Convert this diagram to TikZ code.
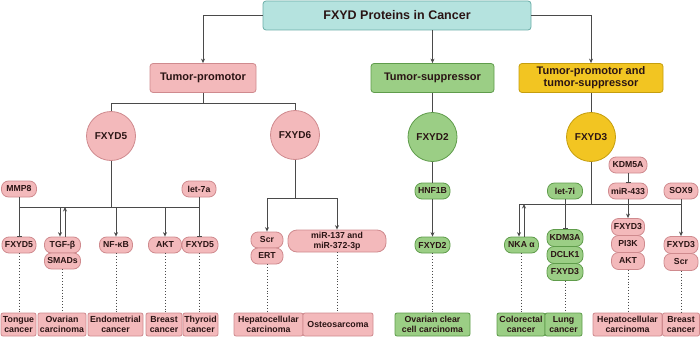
\documentclass[tikz,border=0pt]{standalone}
\usepackage{fontspec}
\setmainfont{Liberation Sans}
\usetikzlibrary{arrows.meta}
\definecolor{pinkF}{HTML}{F3B9BB}
\definecolor{pinkD}{HTML}{CF8A8E}
\definecolor{greenF}{HTML}{9BCE85}
\definecolor{greenD}{HTML}{5F9C4B}
\definecolor{yelF}{HTML}{F2C522}
\definecolor{yelD}{HTML}{C59E0E}
\definecolor{tealF}{HTML}{B5E3DF}
\definecolor{tealD}{HTML}{6AADA7}
\definecolor{lineC}{HTML}{4A4A4A}
\definecolor{txtC}{HTML}{2A1414}
\tikzset{
 base/.style={inner sep=0pt, align=center, text=txtC, font=\bfseries\fontsize{8.7}{9.5}\selectfont, line width=0.8pt},
 pinkpill/.style={base, fill=pinkF, draw=pinkD, rounded corners=7pt, minimum height=16pt},
 greenpill/.style={base, fill=greenF, draw=greenD, rounded corners=7pt, minimum height=16pt},
 pinkbox/.style={base, fill=pinkF, draw=pinkD, rounded corners=2pt, minimum height=23pt, font=\bfseries\fontsize{8.8}{10}\selectfont},
 greenbox/.style={base, fill=greenF, draw=greenD, rounded corners=2pt, minimum height=23pt, font=\bfseries\fontsize{8.8}{10}\selectfont},
 headbox/.style={base, rounded corners=3pt, font=\bfseries\fontsize{11}{12}\selectfont, minimum height=29pt},
 circ/.style={base, circle, minimum size=49pt, font=\bfseries\fontsize{10}{11}\selectfont},
 conn/.style={draw=lineC, line width=0.8pt},
 arr/.style={conn, -{Stealth[length=4.5pt,width=4pt]}},
 inh/.style={conn, -{Bar[width=5pt]}},
 dotl/.style={draw=lineC, line width=0.9pt, dotted},
}
\begin{document}
\begin{tikzpicture}[x=1pt,y=-1pt]
\useasboundingbox (0,0) rectangle (700,337);
% headers
\node[headbox, fill=tealF, draw=tealD, minimum width=268pt, font=\bfseries\fontsize{12.5}{13.5}\selectfont] (title) at (397,15.5) {FXYD Proteins in Cancer};
\node[headbox, fill=pinkF, draw=pinkD, minimum width=106pt] (prom) at (203,78) {Tumor-promotor};
\node[headbox, fill=greenF, draw=greenD, minimum width=123pt] (supp) at (432.5,78) {Tumor-suppressor};
\node[headbox, fill=yelF, draw=yelD, minimum width=144pt] (both) at (591,78) {Tumor-promotor and\\tumor-suppressor};
% circles
\node[circ, fill=pinkF, draw=pinkD] (f5) at (111,136) {FXYD5};
\node[circ, fill=pinkF, draw=pinkD] (f6) at (295,135) {FXYD6};
\node[circ, fill=greenF, draw=greenD] (f2) at (432.5,137) {FXYD2};
\node[circ, fill=yelF, draw=yelD] (f3) at (591,137) {FXYD3};
% FXYD5 branch
\node[pinkpill, minimum width=35pt] (mmp8) at (19,189) {MMP8};
\node[pinkpill, minimum width=34pt] (let7a) at (199,189) {let-7a};
\node[pinkpill, minimum width=34pt] (fx5a) at (19,245) {FXYD5};
\node[pinkpill, minimum width=36pt] (tgf) at (62.5,245) {TGF-β};
\node[pinkpill, minimum width=36pt] (smads) at (62.5,261) {SMADs};
\node[pinkpill, minimum width=33pt] (nfkb) at (116,245) {NF-κB};
\node[pinkpill, minimum width=33pt] (akt1) at (165,245) {AKT};
\node[pinkpill, minimum width=36pt] (fx5b) at (200,245) {FXYD5};
\node[pinkbox, minimum width=35pt] (tongue) at (18.5,324.5) {Tongue\\cancer};
\node[pinkbox, minimum width=48pt] (ovar) at (62,324.5) {Ovarian\\carcinoma};
\node[pinkbox, minimum width=55pt] (endo) at (115.5,324.5) {Endometrial\\cancer};
\node[pinkbox, minimum width=36pt] (breast1) at (164,324.5) {Breast\\cancer};
\node[pinkbox, minimum width=35pt] (thyr) at (200.5,324.5) {Thyroid\\cancer};
% FXYD6 branch
\node[pinkpill, minimum width=32pt] (scr1) at (267,240) {Scr};
\node[pinkpill, minimum width=32pt] (ert) at (267,256) {ERT};
\node[pinkpill, minimum width=98pt, minimum height=22pt, rounded corners=9pt] (mir) at (337,241) {miR-137 and\\miR-372-3p};
\node[pinkbox, minimum width=69pt] (hcc1) at (268.5,324.5) {Hepatocellular\\carcinoma};
\node[pinkbox, minimum width=70pt] (osteo) at (338,324.5) {Osteosarcoma};
% FXYD2 branch
\node[greenpill, minimum width=35pt] (hnf) at (432.5,191) {HNF1B};
\node[greenpill, minimum width=35pt] (fx2) at (432.5,245) {FXYD2};
\node[greenbox, minimum width=75pt] (occ) at (432.5,324.5) {Ovarian clear\\cell carcinoma};
% FXYD3 branch
\node[greenpill, minimum width=35pt] (let7i) at (565,191) {let-7i};
\node[greenpill, minimum width=34pt] (nka) at (521.5,245) {NKA α};
\node[greenpill, minimum width=36pt, minimum height=17pt] (kdm3a) at (565,238) {KDM3A};
\node[greenpill, minimum width=36pt, minimum height=17pt] (dclk1) at (565,255) {DCLK1};
\node[greenpill, minimum width=36pt, minimum height=17pt] (fx3a) at (565,272) {FXYD3};
\node[pinkpill, minimum width=38pt] (kdm5a) at (628,165) {KDM5A};
\node[pinkpill, minimum width=39pt] (mir433) at (628,191) {miR-433};
\node[pinkpill, minimum width=34pt] (sox9) at (681,191) {SOX9};
\node[pinkpill, minimum width=33pt, minimum height=17pt] (fx3b) at (628,227) {FXYD3};
\node[pinkpill, minimum width=33pt, minimum height=17pt] (pi3k) at (628,244) {PI3K};
\node[pinkpill, minimum width=33pt, minimum height=17pt] (akt2) at (628,261) {AKT};
\node[pinkpill, minimum width=34pt, minimum height=17pt] (fx3c) at (681,245) {FXYD3};
\node[pinkpill, minimum width=34pt, minimum height=17pt] (scr2) at (681,262) {Scr};
\node[greenbox, minimum width=48pt] (colo) at (521,324.5) {Colorectal\\cancer};
\node[greenbox, minimum width=37pt] (lung) at (563.5,324.5) {Lung\\cancer};
\node[pinkbox, minimum width=69pt] (hcc2) at (627.5,324.5) {Hepatocellular\\carcinoma};
\node[pinkbox, minimum width=37pt] (breast2) at (681,324.5) {Breast\\cancer};
% bus coordinates
\coordinate (b5L) at (19,207);
\coordinate (b5R) at (199,207);
\coordinate (b6) at (295,198);
\coordinate (b3L) at (519,204);
\coordinate (b3R) at (681,204);
\coordinate (bp) at (203,103);
% top connectors
\draw[arr] (title.west) -| (prom.north);
\draw[arr] (title.south -| supp.north) -- (supp.north);
\draw[arr] (title.east) -| (both.north);
\draw[conn] (prom.south) -- (bp);
\draw[conn] (bp) -| (f5.north);
\draw[conn] (bp) -| (f6.north);
\draw[conn] (supp.south) -- (f2.north);
\draw[conn] (both.south) -- (f3.north);
% FXYD5
\draw[conn] (f5.south) -- (f5.south |- b5L);
\draw[conn] (b5L) -- (b5R);
\draw[inh] (mmp8.south) -- (fx5a.north);
\draw[arr] ([xshift=-2.5pt]tgf.north |- b5L) -- ([xshift=-2.5pt]tgf.north);
\draw[arr] ([xshift=2.5pt]tgf.north) -- ([xshift=2.5pt]tgf.north |- b5L);
\draw[arr] (nfkb.north |- b5L) -- (nfkb.north);
\draw[arr] (akt1.north |- b5L) -- (akt1.north);
\draw[inh] (let7a.south) -- (let7a.south |- fx5b.north);
\draw[dotl] (fx5a.south) -- (fx5a.south |- tongue.north);
\draw[dotl] (smads.south) -- (smads.south |- ovar.north);
\draw[dotl] (nfkb.south) -- (nfkb.south |- endo.north);
\draw[dotl] (akt1.south) -- (akt1.south |- breast1.north);
\draw[dotl] (let7a.south |- fx5b.south) -- (let7a.south |- thyr.north);
% FXYD6
\draw[conn] (f6.south) -- (b6);
\draw[arr] (b6) -| (scr1.north);
\draw[arr] (b6) -| (mir.north);
\draw[dotl] (ert.south) -- (ert.south |- hcc1.north);
\draw[dotl] (mir.south) -- (mir.south |- osteo.north);
% FXYD2
\draw[conn] (f2.south) -- (hnf.north);
\draw[arr] (hnf.south) -- (fx2.north);
\draw[dotl] (fx2.south) -- (fx2.south |- occ.north);
% FXYD3
\draw[conn] (f3.south) -- (f3.south |- b3L);
\draw[conn] (b3L) -- (b3R);
\draw[arr] ([xshift=-2.5pt]nka.north |- b3L) -- ([xshift=-2.5pt]nka.north);
\draw[arr] ([xshift=2.5pt]nka.north) -- ([xshift=2.5pt]nka.north |- b3L);
\draw[inh] (let7i.south) -- (kdm3a.north);
\draw[inh] (kdm5a.south) -- (mir433.north);
\draw[arr] (mir433.south) -- (fx3b.north);
\draw[arr] (sox9.south) -- (fx3c.north);
\draw[dotl] (nka.south) -- (nka.south |- colo.north);
\draw[dotl] (fx3a.south) -- (fx3a.south |- lung.north);
\draw[dotl] (akt2.south) -- (akt2.south |- hcc2.north);
\draw[dotl] (scr2.south) -- (scr2.south |- breast2.north);
\end{tikzpicture}
\end{document}
